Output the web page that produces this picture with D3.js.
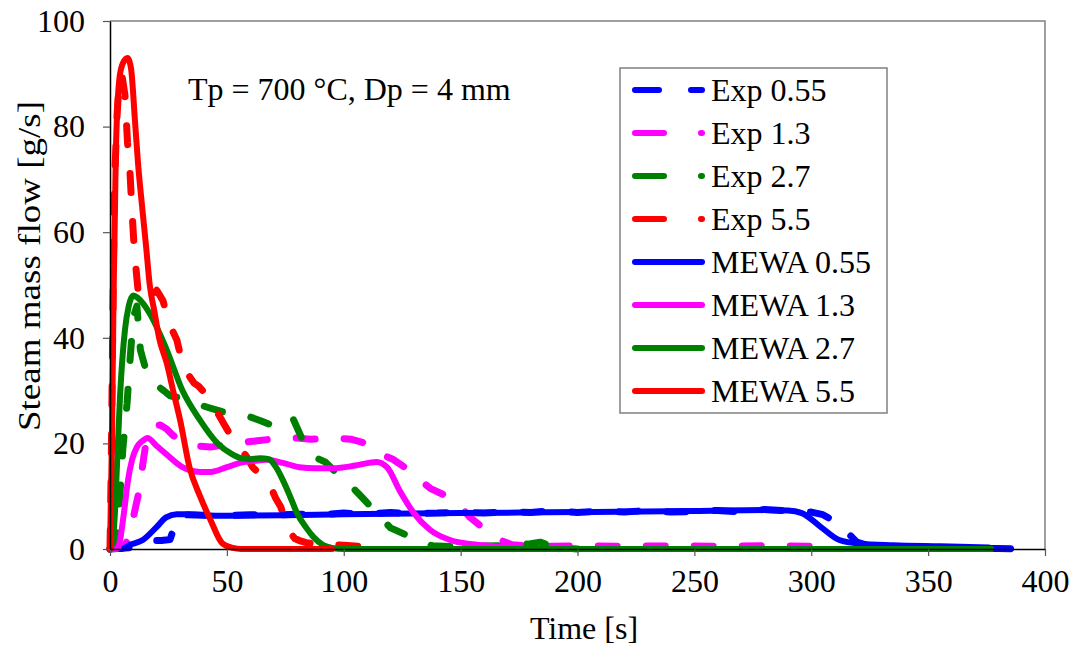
<!DOCTYPE html>
<head>
<meta charset="utf-8">
<title> Steam mass flow </title>
<script type="text/javascript" src="https://cdn.jsdelivr.net/npm/d3@7/dist/d3.min.js"></script>
<style>
body { margin: 0; background: #fff; }
text { font-family: "Liberation Serif", "Times New Roman", serif; fill: #000; }
.axis text { font-size: 32px; }
.axis path { stroke: #000; stroke-width: 1.5; }
.axis line { stroke: #555; stroke-width: 1.2; }
</style>
</head>

<body>
<script>
// data: time [s] and steam mass flow [g/s]
var expTime055 = [0, 10, 18, 22, 25.7, 27, 28.5, 30, 40, 50, 60, 70, 80, 90, 100, 110, 120, 130, 140, 150, 160, 170, 180, 190, 200, 210, 220, 230, 240, 250, 260, 270, 280, 290, 300, 305, 309, 314, 319.5, 325, 340, 360, 380, 396];
var expFlow055 = [0, 0.3, 1.6, 1.6, 1.8, 3.5, 5.8, 6.5, 6.4, 6.3, 6.5, 6.4, 6.6, 6.5, 6.8, 6.6, 6.9, 6.7, 6.8, 7.0, 6.8, 7.1, 6.9, 7.3, 6.9, 7.2, 7.0, 7.3, 7.0, 7.1, 7.3, 7.0, 7.5, 7.2, 7.0, 6.5, 5.5, 3.8, 1.3, 0.6, 0.3, 0.2, 0.1, 0];

var expTime13 = [0, 6, 8, 10, 12.8, 14, 15, 17, 19.5, 21.5, 24, 27, 30, 34, 38, 43, 50, 57, 63, 69, 75, 80, 86, 92, 97, 103, 108, 113, 121, 126, 131, 137, 144, 149, 154, 159, 164, 168, 172, 180, 200, 220, 240, 260, 280, 300];
var expFlow13 = [0, 0.5, 2, 6, 11.7, 16, 19, 22, 23.3, 23.5, 22.8, 21.5, 20.6, 19.8, 19.5, 19.3, 19.8, 20.2, 20.5, 20.8, 21, 21, 20.8, 20.9, 21, 20.8, 20.2, 18.5, 17, 15.5, 13.6, 11.5, 10, 8.5, 6, 4.2, 2.6, 1.5, 0.8, 0.5, 0.6, 0.5, 0.6, 0.5, 0.6, 0.5];

var expTime27 = [0, 2, 3, 4.3, 5.5, 7.3, 8.6, 10, 11.5, 13, 15, 17, 20, 23, 25.7, 30, 34, 37, 42, 48, 54, 60, 65, 69, 73, 76, 78, 80.5, 83, 87, 92, 95.5, 99, 103, 108, 112, 116, 120, 125, 131, 138, 150, 165, 175, 180, 184, 190, 200];
var expFlow27 = [0, 0.5, 4, 10.6, 19, 27.6, 36, 44, 46, 37.7, 34.5, 32, 31, 30, 29, 28.6, 28, 27.5, 26.8, 26, 25.5, 25, 24.2, 23.5, 23.8, 24.2, 25, 22.5, 20, 17.5, 16.5, 15, 13.6, 12, 9.7, 7.8, 5.9, 4, 3, 1.8, 0.6, 0.4, 0.6, 0.8, 1.0, 1.3, 0.3, 0];

var expTime55 = [0, 0.5, 1, 1.5, 2, 3, 4, 5, 6.4, 7.5, 8.6, 9.4, 10.5, 12, 14, 17, 20, 22.7, 25, 28.6, 31, 33.5, 36, 38, 40, 43, 46, 49, 52, 55, 58.6, 61, 64, 67, 69, 71, 73, 75, 77, 79, 81, 84, 88, 92, 96, 100, 106];
var expFlow55 = [0, 15, 35, 55, 70, 82, 89, 90, 86, 77, 71, 64, 56, 49, 47, 47.5, 49, 47, 43, 39.6, 35, 33, 31.4, 30.8, 29.8, 27.5, 25.8, 23.5, 21.2, 19.5, 17.4, 15.5, 14.2, 12.8, 11.5, 9.5, 8, 5.5, 3.2, 2, 1.6, 1.2, 0.9, 1.1, 0.8, 0.7, 0.5];

var mewaTime055 = [0, 5, 8.6, 14, 20, 24, 28.5, 32, 40, 50, 75, 100, 150, 200, 250, 280, 290, 296, 304, 312, 321, 335, 355, 376];
var mewaFlow055 = [0, 0, 0.8, 1.7, 4.2, 6, 6.6, 6.6, 6.4, 6.3, 6.4, 6.6, 6.8, 7.0, 7.2, 7.4, 7.3, 6.8, 4.2, 1.7, 1.0, 0.7, 0.5, 0.3];

var mewaTime13 = [0, 3, 4.3, 6, 7.7, 9.5, 11.5, 14, 16, 20, 24, 31, 38.5, 43, 50, 55.6, 62, 67, 74, 81, 88, 95.5, 105, 114, 118.5, 124, 130, 137, 145.5, 153, 160, 170];
var mewaFlow13 = [0, 0, 1.7, 7, 13, 17, 19.3, 20.5, 21, 19.5, 18, 15.5, 14.6, 14.6, 15.5, 16.3, 16.7, 16.9, 16.3, 15.5, 15.3, 15.3, 15.8, 16.5, 15.5, 11, 6.8, 3.6, 1.7, 1, 0.7, 0.3];

var mewaTime27 = [0, 1, 2, 3, 4.3, 6.4, 8, 10, 12, 17, 24, 31, 38.5, 46, 52, 56, 60, 64, 68, 71, 74, 77, 80, 84, 87, 91, 95, 100, 377];
var mewaFlow27 = [0, 1, 6, 16, 29, 41.5, 46, 48, 47.5, 44.6, 38, 30, 24.4, 20, 18, 17.2, 17, 17.2, 17, 15.5, 13, 10, 6.8, 4, 2.3, 0.8, 0.2, 0, 0];

var mewaTime55 = [0, 0.8, 1.5, 2.5, 4, 5.5, 7.5, 9, 10.7, 12, 13.7, 15.5, 17, 19, 21, 24.4, 27, 30, 34, 38.5, 43, 48, 52.6, 56, 95];
var mewaFlow55 = [0, 20, 47, 75, 89, 92, 93, 91, 81, 73, 65, 57, 50, 45, 40, 35, 30, 24.4, 15.5, 10, 5.5, 1.1, 0.2, 0, 0];

var seriesNames = ["Exp 0.55", "Exp 1.3", "Exp 2.7", "Exp 5.5", "MEWA 0.55", "MEWA 1.3", "MEWA 2.7", "MEWA 5.5"];
var seriesTimes = [expTime055, expTime13, expTime27, expTime55, mewaTime055, mewaTime13, mewaTime27, mewaTime55];
var seriesFlows = [expFlow055, expFlow13, expFlow27, expFlow55, mewaFlow055, mewaFlow13, mewaFlow27, mewaFlow55];

var xTicks = [0, 50, 100, 150, 200, 250, 300, 350, 400];
var yTicks = [0, 20, 40, 60, 80, 100];

var colors = ["#0000ff", "#ff00ff", "#008000", "#ff0000", "#0000ff", "#ff00ff", "#008000", "#ff0000"];

var width = 1073;
var height = 646;
// plot area edges (avoid the name "top", it is window.top)
var pLeft = 110, pRight = 1045, pTop = 21, pBottom = 549;

var svg = d3.select("body").append("svg")
	.attr("width", width)
	.attr("height", height);

var x = d3.scaleLinear().domain([0, 400]).range([pLeft, pRight]);
var y = d3.scaleLinear().domain([0, 100]).range([pBottom, pTop]);

// plot area border (grey top and right)
svg.append("path")
	.attr("d", "M" + pLeft + "," + pTop + "H" + pRight + "V" + pBottom)
	.style("fill", "none")
	.style("stroke", "#808080")
	.style("stroke-width", 1.5);

svg.append("clipPath").attr("id", "clip")
	.append("rect")
	.attr("x", pLeft - 4).attr("y", pTop)
	.attr("width", pRight - pLeft + 8).attr("height", pBottom - pTop + 4);

var plot = svg.append("g").attr("clip-path", "url(#clip)");

for (var i = 0; i < seriesNames.length; i++) {
	var pts = seriesTimes[i].map(function(t, j) { return [t, seriesFlows[i][j]]; });
	var isExp = i < 4;
	var line = d3.line()
		.x(function(d) { return x(d[0]); })
		.y(function(d) { return y(d[1]); })
		.curve(isExp ? d3.curveLinear : d3.curveMonotoneX);
	plot.append("path")
		.attr("d", line(pts))
		.style("fill", "none")
		.style("stroke", colors[i])
		.style("stroke-width", isExp ? 7 : 6)
		.style("stroke-linecap", "round")
		.style("stroke-linejoin", "round")
		.style("stroke-dasharray", isExp ? "19,29" : null);
}

// axes
svg.append("g")
	.attr("class", "axis")
	.attr("transform", "translate(0," + pBottom + ")")
	.call(d3.axisBottom(x).tickValues(xTicks).tickSize(7).tickPadding(13).tickSizeOuter(0));

svg.append("g")
	.attr("class", "axis")
	.attr("transform", "translate(" + pLeft + ",0)")
	.call(d3.axisLeft(y).tickValues(yTicks).tickSize(7).tickPadding(18).tickSizeOuter(0));

svg.selectAll(".axis .tick text").style("fill", "#000");

// axis titles
svg.append("text")
	.attr("x", 584)
	.attr("y", 639)
	.attr("text-anchor", "middle")
	.style("font-size", "32px")
	.text("Time [s]");

svg.append("text")
	.attr("transform", "translate(40,266) rotate(-90)")
	.attr("text-anchor", "middle")
	.attr("textLength", 330)
	.attr("lengthAdjust", "spacingAndGlyphs")
	.style("font-size", "32px")
	.text("Steam mass flow [g/s]");

svg.append("text")
	.attr("x", 188)
	.attr("y", 100)
	.style("font-size", "32px")
	.text("Tp = 700 °C, Dp = 4 mm");

// legend
var legend = svg.append("g");
legend.append("rect")
	.attr("x", 620).attr("y", 68)
	.attr("width", 267).attr("height", 345)
	.style("fill", "#fff")
	.style("stroke", "#808080")
	.style("stroke-width", 1.5);

for (var k = 0; k < seriesNames.length; k++) {
	var ly = 90 + k * 43;
	var exp = k < 4;
	legend.append("line")
		.attr("x1", 635).attr("x2", 702)
		.attr("y1", ly).attr("y2", ly)
		.style("stroke", colors[k])
		.style("stroke-width", 6)
		.style("stroke-linecap", "round")
		.style("stroke-dasharray", exp ? (k == 0 ? "24,32" : "29,37") : null);
	legend.append("text")
		.attr("x", 711)
		.attr("y", ly + 11)
		.style("font-size", "32px")
		.text(seriesNames[k]);
}
</script>
</body>
